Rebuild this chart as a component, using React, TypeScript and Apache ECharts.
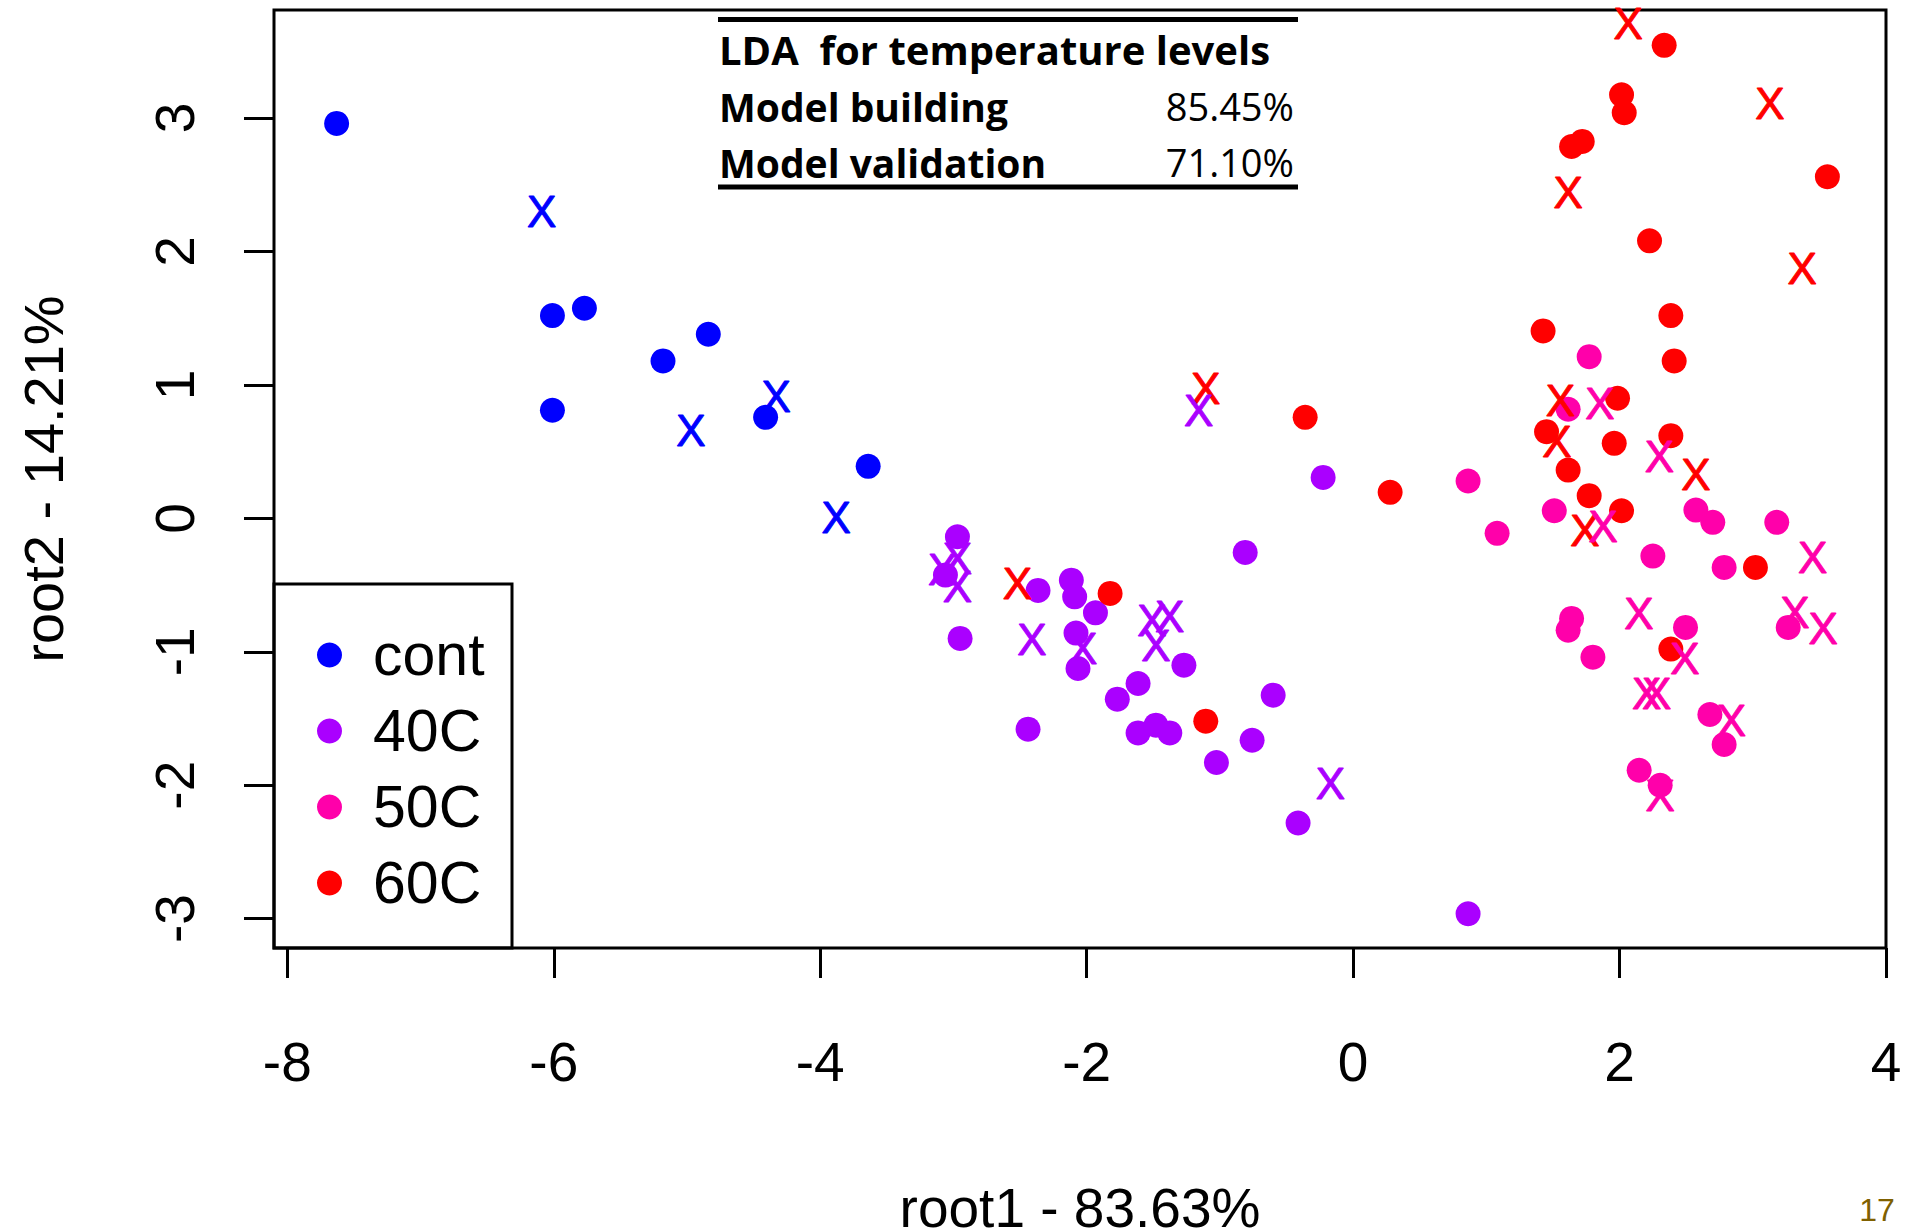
import React, { useEffect, useRef } from "react";
import * as echarts from "echarts";

// Groups and colours
const groups = ["cont", "40C", "50C", "60C"];
const colors = ["#0000FF", "#AA00FF", "#FF00AA", "#FF0000"];

// Model-building samples (filled dots): [root1, root2]
const contBuild = [
  [-7.63, 2.96], [-6.01, 1.52], [-5.77, 1.575], [-5.18, 1.18], [-6.01, 0.81],
  [-4.84, 1.38], [-4.41, 0.757], [-3.64, 0.39],
];
const c40Build = [
  [-2.97, -0.138], [-3.06, -0.425], [-2.365, -0.54], [-2.115, -0.463], [-2.09, -0.588],
  [-2.95, -0.9], [-2.08, -0.86], [-2.065, -1.125], [-1.934, -0.708], [-0.225, 0.307],
  [-0.81, -0.255], [-1.27, -1.1], [-1.614, -1.2375], [-1.77, -1.355], [-0.6, -1.325],
  [-1.614, -1.608], [-1.48, -1.55], [-1.376, -1.608], [-0.758, -1.663], [-1.026, -1.83],
  [-0.413, -2.283], [0.863, -2.963], [-2.44, -1.58],
];
const c50Build = [
  [0.863, 0.28], [1.772, 1.212], [1.614, 0.8175], [1.51, 0.057], [1.081, -0.1125],
  [2.573, 0.062], [2.7, -0.03], [3.18, -0.03], [2.25, -0.283], [2.785, -0.3675],
  [1.64, -0.75], [1.614, -0.838], [2.495, -0.8175], [3.266, -0.8175], [1.8, -1.04],
  [2.678, -1.47], [2.785, -1.695], [2.147, -1.888], [2.305, -2.0],
];
const c60Build = [
  [-1.824, -0.5625], [-0.36, 0.757], [0.278, 0.195], [-1.106, -1.52], [2.335, 3.545],
  [2.015, 3.175], [2.035, 3.04], [1.64, 2.787], [1.72, 2.825], [3.56, 2.56],
  [2.225, 2.08], [2.385, 1.52], [1.426, 1.405], [2.41, 1.18], [1.985, 0.9],
  [1.452, 0.65], [1.96, 0.5625], [2.385, 0.62], [1.614, 0.362], [1.772, 0.17],
  [2.015, 0.057], [3.02, -0.3675], [2.385, -0.98],
];

// Model-validation samples (drawn as "X")
const contValid = [[-6.09, 2.3], [-4.33, 0.917], [-4.97, 0.66], [-3.88, 0.01]];
const c40Valid = [
  [-3.08, -0.38], [-2.97, -0.3], [-2.97, -0.51], [-2.41, -0.91], [-2.03, -0.975],
  [-1.51, -0.763], [-1.376, -0.738], [-1.48, -0.95], [-1.16, 0.805], [-0.17, -1.99],
];
const c50Valid = [
  [1.852, 0.8625], [2.3, 0.462], [1.877, -0.063], [3.45, -0.29], [2.145, -0.7125],
  [3.316, -0.708], [3.529, -0.825], [2.49, -1.05], [2.203, -1.3125], [2.278, -1.3125],
  [2.84, -1.513], [2.305, -2.08],
];
const c60Valid = [
  [-2.52, -0.49], [-1.106, 0.975], [2.065, 3.71], [3.128, 3.11], [1.614, 2.44],
  [3.37, 1.875], [1.557, 0.887], [1.53, 0.575], [2.573, 0.325], [1.74, -0.088],
];

const xTicks = [-8, -6, -4, -2, 0, 2, 4];
const yTicks = [-3, -2, -1, 0, 1, 2, 3];

const tableTitle = "LDA  for temperature levels";
const tableRows = ["Model building", "Model validation"];
const tableValues = ["85.45%", "71.10%"];

const FONT = "Liberation Sans";
const TABLE_FONT = "Open Sans";

export default function App() {
  const ref = useRef<HTMLDivElement>(null);

  useEffect(() => {
    const chart = echarts.init(ref.current!, null, { renderer: "svg" });
    const dotSets = [contBuild, c40Build, c50Build, c60Build];
    const xSets = [contValid, c40Valid, c50Valid, c60Valid];
    const series: any[] = [];
    groups.forEach((g, i) => {
      series.push({
        type: "scatter",
        name: g,
        data: dotSets[i],
        symbol: "circle",
        symbolSize: 25,
        itemStyle: { color: colors[i], opacity: 1 },
        silent: true,
        z: 2,
      });
    });
    [3, 2, 1, 0].forEach((i) => {
      series.push({
        type: "scatter",
        name: groups[i] + " validation",
        data: xSets[i],
        symbol: "circle",
        symbolSize: 2,
        itemStyle: { color: "rgba(0,0,0,0)", opacity: 1 },
        label: {
          show: true,
          position: "inside",
          formatter: "X",
          color: colors[i],
          opacity: 1,
          fontSize: 44,
          fontFamily: FONT,
          textBorderColor: colors[i],
          textBorderWidth: 1,
        },
        silent: true,
        z: 3,
      });
    });

    const tickStyle = { show: true, inside: false, length: 30, lineStyle: { color: "#000", width: 3 } };

    chart.setOption({
      animation: false,
      backgroundColor: "#fff",
      grid: {
        left: 274,
        right: 31,
        top: 10,
        bottom: 284,
        show: true,
        borderColor: "#000",
        borderWidth: 3,
        backgroundColor: "transparent",
        containLabel: false,
        outerBoundsMode: "none",
      },
      xAxis: {
        type: "value",
        min: -8.1,
        max: 4.0,
        splitLine: { show: false },
        axisLine: { show: false, onZero: false },
        axisTick: { ...tickStyle, customValues: xTicks },
        axisLabel: {
          customValues: xTicks,
          fontSize: 55,
          fontFamily: FONT,
          color: "#000",
          margin: 86,
        },
        name: "root1 - 83.63%",
        nameLocation: "middle",
        nameGap: 232,
        nameTextStyle: { fontSize: 55, fontFamily: FONT, color: "#000", lineHeight: 56 },
      },
      yAxis: {
        type: "value",
        min: -3.22,
        max: 3.81,
        splitLine: { show: false },
        axisLine: { show: false, onZero: false },
        axisTick: { ...tickStyle, customValues: yTicks },
        axisLabel: {
          customValues: yTicks,
          fontSize: 55,
          fontFamily: FONT,
          color: "#000",
          rotate: 90,
          margin: 72,
        },
        name: "root2 - 14.21%",
        nameLocation: "middle",
        nameGap: 203,
        nameRotate: 90,
        nameTextStyle: { fontSize: 56, fontFamily: FONT, color: "#000" },
      },
      legend: {
        data: groups,
        orient: "vertical",
        left: 317,
        top: 625,
        padding: 0,
        itemGap: 16,
        itemWidth: 25,
        itemHeight: 25,
        icon: "circle",
        selectedMode: false,
        textStyle: {
          fontSize: 59,
          fontFamily: FONT,
          color: "#000",
          lineHeight: 60,
          padding: [0, 0, 0, 26],
        },
      },
      graphic: [
        {
          type: "rect",
          shape: { x: 274, y: 584, width: 238, height: 364 },
          style: { fill: "none", stroke: "#000", lineWidth: 3 },
          z: 1,
        },
        {
          type: "line",
          shape: { x1: 718, y1: 19.5, x2: 1298, y2: 19.5 },
          style: { stroke: "#000", lineWidth: 5 },
        },
        {
          type: "line",
          shape: { x1: 718, y1: 187, x2: 1298, y2: 187 },
          style: { stroke: "#000", lineWidth: 5 },
        },
        {
          type: "text",
          x: 719,
          y: 49,
          style: {
            text: tableTitle,
            fill: "#000",
            fontSize: 40,
            fontWeight: "bold",
            fontFamily: TABLE_FONT,
            align: "left",
            verticalAlign: "middle",
          },
        },
        ...tableRows.map((t, i) => ({
          type: "text",
          x: 719,
          y: 106 + i * 56,
          style: {
            text: t,
            fill: "#000",
            fontSize: 39,
            fontWeight: "bold",
            fontFamily: TABLE_FONT,
            align: "left",
            verticalAlign: "middle",
          },
        })),
        ...tableValues.map((t, i) => ({
          type: "text",
          x: 1294,
          y: 106 + i * 56,
          style: {
            text: t,
            fill: "#000",
            fontSize: 38,
            fontFamily: TABLE_FONT,
            align: "right",
            verticalAlign: "middle",
          },
        })),
        {
          type: "text",
          x: 1877,
          y: 1210,
          style: {
            text: "17",
            fill: "#7F6000",
            fontSize: 32,
            fontFamily: FONT,
            align: "center",
            verticalAlign: "middle",
          },
        },
      ],
      series,
    });

    return () => chart.dispose();
  }, []);

  return (
    <div
      ref={ref}
      style={{ position: "absolute", left: 0, top: 0, width: 1917, height: 1232, background: "#fff" }}
    />
  );
}
